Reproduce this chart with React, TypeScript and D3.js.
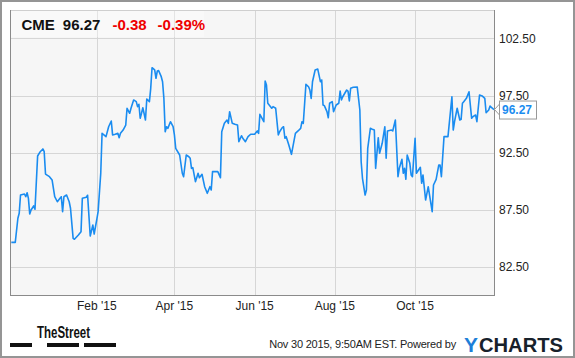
import React from 'react';
import * as d3 from 'd3';

const ticker = 'CME';
const lastPrice = '96.27';
const change = '-0.38';
const changePct = '-0.39%';
const footerText = 'Nov 30 2015, 9:50AM EST. Powered by';

const dates: string[] = [
  '2014-11-28','2014-12-01','2014-12-03','2014-12-04','2014-12-05','2014-12-08','2014-12-09','2014-12-10','2014-12-11','2014-12-12',
  '2014-12-13','2014-12-15','2014-12-16','2014-12-18','2014-12-20','2014-12-22','2014-12-23','2014-12-24','2014-12-27','2014-12-29',
  '2014-12-31','2015-01-02','2015-01-04','2015-01-05','2015-01-06','2015-01-07','2015-01-09','2015-01-11','2015-01-12','2015-01-14',
  '2015-01-15','2015-01-18','2015-01-20','2015-01-21','2015-01-24','2015-01-25','2015-01-27','2015-01-29','2015-01-30','2015-02-01',
  '2015-02-02','2015-02-04','2015-02-05','2015-02-08','2015-02-10','2015-02-12','2015-02-13','2015-02-15','2015-02-17','2015-02-18',
  '2015-02-19','2015-02-21','2015-02-23','2015-02-24','2015-02-26','2015-02-27','2015-03-01','2015-03-03','2015-03-04','2015-03-05',
  '2015-03-06','2015-03-07','2015-03-08','2015-03-10','2015-03-11','2015-03-13','2015-03-14','2015-03-15','2015-03-17','2015-03-18',
  '2015-03-19','2015-03-20','2015-03-22','2015-03-23','2015-03-24','2015-03-25','2015-03-26','2015-03-27','2015-03-29','2015-03-31',
  '2015-04-01','2015-04-02','2015-04-05','2015-04-07','2015-04-08','2015-04-10','2015-04-12','2015-04-13','2015-04-14','2015-04-15',
  '2015-04-17','2015-04-19','2015-04-20','2015-04-22','2015-04-24','2015-04-26','2015-04-28','2015-04-29','2015-04-30','2015-05-04',
  '2015-05-06','2015-05-07','2015-05-09','2015-05-11','2015-05-12','2015-05-13','2015-05-15','2015-05-17','2015-05-19','2015-05-20',
  '2015-05-22','2015-05-23','2015-05-25','2015-05-27','2015-05-29','2015-06-01','2015-06-03','2015-06-04','2015-06-05','2015-06-08',
  '2015-06-09','2015-06-10','2015-06-11','2015-06-14','2015-06-15','2015-06-17','2015-06-19','2015-06-20','2015-06-22','2015-06-23',
  '2015-06-24','2015-06-25','2015-06-27','2015-06-29','2015-07-02','2015-07-04','2015-07-06','2015-07-07','2015-07-08','2015-07-10',
  '2015-07-12','2015-07-13','2015-07-14','2015-07-15','2015-07-17','2015-07-19','2015-07-21','2015-07-22','2015-07-23','2015-07-24',
  '2015-07-26','2015-07-27','2015-07-28','2015-07-30','2015-07-31','2015-08-02','2015-08-04','2015-08-05','2015-08-06','2015-08-07',
  '2015-08-10','2015-08-11','2015-08-12','2015-08-13','2015-08-15','2015-08-18','2015-08-19','2015-08-20','2015-08-21','2015-08-22',
  '2015-08-24','2015-08-25','2015-08-26','2015-08-28','2015-08-29','2015-08-31','2015-09-01','2015-09-03','2015-09-04','2015-09-06',
  '2015-09-08','2015-09-09','2015-09-10','2015-09-13','2015-09-14','2015-09-16','2015-09-18','2015-09-19','2015-09-21','2015-09-22',
  '2015-09-23','2015-09-24','2015-09-25','2015-09-27','2015-09-28','2015-09-29','2015-10-01','2015-10-02','2015-10-04','2015-10-05',
  '2015-10-06','2015-10-07','2015-10-09','2015-10-11','2015-10-12','2015-10-14','2015-10-15','2015-10-17','2015-10-19','2015-10-20',
  '2015-10-21','2015-10-23','2015-10-26','2015-10-29','2015-10-30','2015-10-31','2015-11-02','2015-11-04','2015-11-05','2015-11-06',
  '2015-11-07','2015-11-09','2015-11-11','2015-11-13','2015-11-14','2015-11-16','2015-11-17','2015-11-19','2015-11-21','2015-11-23',
  '2015-11-24','2015-11-26','2015-11-27','2015-11-28','2015-11-30',
];

const prices: number[] = [
  84.62, 84.62, 86.73, 87.17, 88.77, 88.86, 88.62, 88.97, 88.48, 87.11,
  87.46, 87.81, 87.52, 92.19, 92.57, 92.81, 92.57, 90.61, 90.38, 90.09,
  88.62, 88.18, 88.48, 88.62, 87.31, 88.62, 88.77, 88.18, 87.61, 84.97,
  84.89, 85.26, 85.55, 88.48, 88.57, 88.75, 85.18, 86.14, 85.35, 86.64,
  87.31, 90.68, 94.18, 93.89, 94.76, 95.26, 94.04, 94.10, 94.18, 93.80,
  94.18, 94.47, 94.91, 96.38, 95.94, 96.38, 97.11, 96.96, 96.52, 96.73,
  95.50, 95.94, 96.43, 95.35, 97.19, 96.96, 98.13, 99.94, 99.74, 99.01,
  99.65, 99.68, 99.15, 98.71, 97.25, 94.32, 94.76, 94.62, 95.20, 94.76,
  94.04, 92.87, 92.28, 90.68, 90.38, 92.28, 92.13, 91.99, 91.11, 91.17,
  89.94, 90.68, 90.29, 90.59, 89.50, 88.92, 89.50, 89.21, 90.82, 90.82,
  90.29, 94.32, 95.06, 95.35, 95.06, 96.08, 95.06, 94.97, 94.91, 93.45,
  93.97, 93.75, 93.45, 93.89, 94.10, 94.10, 94.39, 94.18, 95.85, 95.20,
  98.77, 98.42, 96.82, 96.38, 96.52, 96.38, 94.04, 94.32, 94.68, 94.76,
  93.75, 93.89, 93.16, 92.34, 94.18, 94.39, 94.62, 95.20, 95.06, 98.48,
  98.27, 97.98, 97.25, 98.71, 99.74, 99.82, 98.71, 98.86, 96.67, 96.61,
  96.08, 95.55, 96.82, 96.96, 96.08, 96.67, 96.82, 97.89, 97.11, 97.39,
  97.98, 97.89, 97.02, 98.13, 98.22, 98.25, 97.25, 96.23, 91.69, 90.24,
  88.77, 89.21, 92.87, 94.62, 94.56, 94.47, 91.11, 93.80, 92.43, 93.31,
  94.76, 91.99, 94.39, 94.47, 94.39, 95.35, 90.38, 91.11, 91.90, 90.68,
  91.11, 90.15, 92.28, 91.55, 90.53, 90.38, 93.75, 90.68, 91.03, 91.20,
  89.80, 90.53, 88.33, 89.50, 88.77, 87.31, 89.65, 90.15, 91.40, 91.40,
  90.38, 93.89, 93.89, 97.39, 94.47, 95.20, 96.38, 95.35, 95.41, 96.82,
  96.96, 97.25, 97.83, 95.50, 95.64, 95.79, 95.20, 97.54, 97.46, 97.25,
  95.99, 96.23, 96.58, 96.46, 96.27,
];

const xDomain = ['2014-11-27', '2015-11-30'];
const xTicks = ['2015-02-01', '2015-04-01', '2015-06-01', '2015-08-01', '2015-10-01'];
const yDomain = [80, 105];
const yTicks = [82.5, 87.5, 92.5, 97.5, 102.5];

const FONT = '"Liberation Sans", Arial, Helvetica, sans-serif';

export default function App() {
  const W = 575;
  const H = 358;
  const left = 10, right = 494, top = 10, bottom = 295;
  const parse = d3.timeParse('%Y-%m-%d');
  const data = dates.map((d, i) => ({ date: parse(d) as Date, value: prices[i] }));

  const x = d3.scaleTime()
    .domain(xDomain.map((d) => parse(d) as Date))
    .range([left, right]);
  const y = d3.scaleLinear().domain(yDomain).range([bottom, top]);

  const line = d3.line<{ date: Date; value: number }>()
    .x((d) => x(d.date))
    .y((d) => y(d.value));

  const fmtX = d3.timeFormat("%b '%y");
  const fmtY = d3.format('.2f');
  const last = data[data.length - 1];
  const lx = x(last.date);
  const ly = y(last.value);

  return (
    <svg width={W} height={H} style={{ position: 'absolute', left: 0, top: 0, background: '#fff' }} fontFamily={FONT}>
      <rect x={0} y={0} width={W} height={H} fill="#fff" />
      <rect x={1} y={1} width={W - 2} height={H - 2} fill="none" stroke="#959595" strokeWidth={2} />

      {/* plot area */}
      <rect x={left} y={top} width={right - left} height={bottom - top} fill="#f6f6f6" />
      {yTicks.map((t) => (
        <line key={'gy' + t} x1={left} x2={right} y1={Math.round(y(t)) + 0.5} y2={Math.round(y(t)) + 0.5} stroke="#d6d6d6" strokeWidth={1} />
      ))}
      {xTicks.map((t) => {
        const xx = Math.round(x(parse(t) as Date)) + 0.5;
        return <line key={'gx' + t} x1={xx} x2={xx} y1={top} y2={bottom} stroke="#d6d6d6" strokeWidth={1} />;
      })}
      <rect x={left} y={top} width={194} height={27} fill="#ffffff" opacity={0.35} />

      <path d={line(data) || ''} fill="none" stroke="#1a8cf0" strokeWidth={1.6} strokeLinejoin="round" />

      <line x1={left} x2={right} y1={top + 0.5} y2={top + 0.5} stroke="#cfcfcf" />
      <line x1={left + 0.5} x2={left + 0.5} y1={top} y2={bottom} stroke="#8a8a8a" />
      <line x1={right + 0.5} x2={right + 0.5} y1={top} y2={bottom + 1} stroke="#8a8a8a" />
      <line x1={left} x2={right + 1} y1={bottom + 0.5} y2={bottom + 0.5} stroke="#8a8a8a" />

      {/* header */}
      <text x={21.5} y={29.5} fontSize={15} fontWeight="bold" fill="#111">
        <tspan>{ticker}</tspan>
        <tspan dx={8}>{lastPrice}</tspan>
        <tspan dx={12} fill="#ee0000">{change}</tspan>
        <tspan dx={11} fill="#ee0000">{changePct}</tspan>
      </text>

      {/* y axis labels */}
      {yTicks.map((t) => (
        <text key={'ly' + t} x={499} y={y(t)} dy="0.36em" fontSize={12} fill="#222">{fmtY(t)}</text>
      ))}

      {/* x axis labels */}
      {xTicks.map((t) => (
        <text key={'lx' + t} x={x(parse(t) as Date)} y={310} fontSize={12} fill="#222" textAnchor="middle">
          {fmtX(parse(t) as Date)}
        </text>
      ))}

      {/* last value tag */}
      <path d={`M${lx + 5.5},${ly - 5.5} L${lx + 0.5},${ly} L${lx + 5.5},${ly + 5.5}`} fill="#fff" stroke="#999" />
      <rect x={lx + 5.5} y={ly - 8.5} width={37} height={18} fill="#fff" stroke="#999" />
      <text x={lx + 8} y={ly} dy="0.36em" fontSize={12} fontWeight="bold" fill="#1a8cf0">{fmtY(last.value)}</text>

      {/* footer */}
      <text x={37} y={338} fontSize={16} fontWeight="bold" fill="#111" textLength={53} lengthAdjust="spacingAndGlyphs">TheStreet</text>
      <rect x={10} y={343} width={22} height={4} fill="#111" />
      <rect x={47} y={343} width={32} height={4} fill="#111" />
      <rect x={84} y={343} width={32} height={4} fill="#111" />
      <text x={456} y={348} fontSize={11} fill="#222" textAnchor="end" letterSpacing={-0.2}>{footerText}</text>
      <text x={464} y={352} fontSize={21} fontWeight="900" fill="#1e7fd8">Y</text>
      <text x={479} y={352} fontSize={21} fontWeight="900" fill="#17212b" textLength={84} lengthAdjust="spacingAndGlyphs">CHARTS</text>
    </svg>
  );
}
